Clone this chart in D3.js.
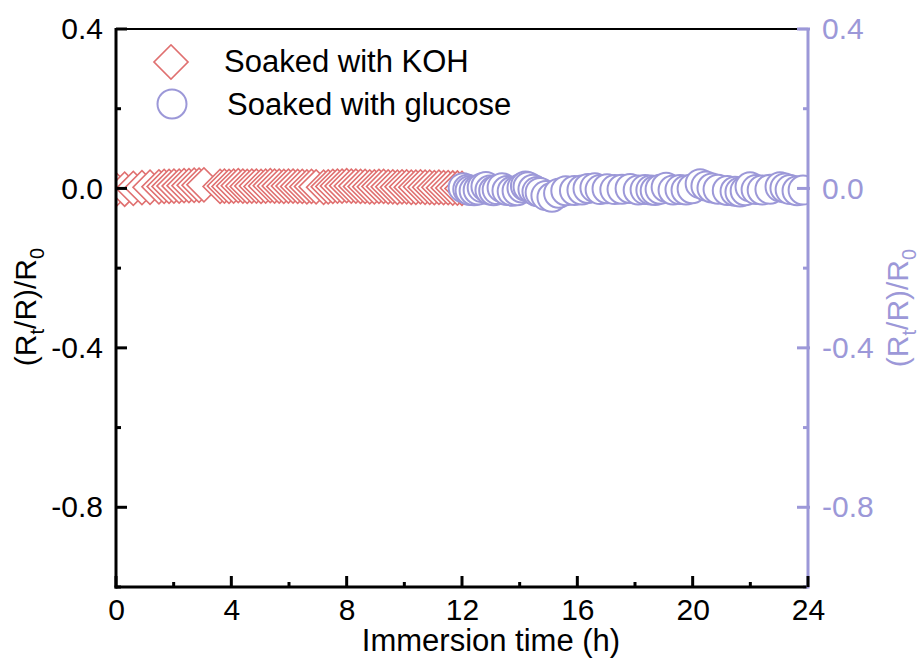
<!DOCTYPE html>
<html>
<head>
<meta charset="utf-8">
<script src="https://cdn.jsdelivr.net/npm/d3@7/dist/d3.min.js"></script>
<style>
html,body{margin:0;padding:0;background:#fff;}
svg{display:block;font-family:"Liberation Sans",Arial,sans-serif;}
</style>
</head>
<body>
<svg id="chart" width="922" height="662"></svg>
<script>
// ---- data ----
const kohTime = [0, 0.3, 0.6, 0.9, 1.18, 1.49, 1.67, 1.84, 2.01, 2.19, 2.36, 2.53, 2.71, 2.88, 3.05, 3.61,
  3.76, 3.92, 4.08, 4.24, 4.4, 4.55, 4.71, 4.87, 5.03, 5.19, 5.35, 5.5, 5.66, 5.82, 5.98, 6.14,
  6.3, 6.46, 6.62, 6.78, 6.94, 7.2, 7.36, 7.52, 7.68, 7.84, 8.0, 8.16, 8.32, 8.48, 8.64, 8.8,
  8.96, 9.12, 9.28, 9.44, 9.6, 9.76, 9.92, 10.08, 10.24, 10.4, 10.56, 10.72, 10.88, 11.04,
  11.2, 11.36, 11.52, 11.68, 11.84, 12.0];
const kohValue = [-0.003, -0.002, 0.0, 0.002, 0.003, 0.004, 0.005, 0.005, 0.006, 0.006, 0.007, 0.007, 0.008, 0.008, 0.009, 0.005,
  0.006, 0.005, 0.006, 0.007, 0.006, 0.005, 0.006, 0.006, 0.005, 0.006, 0.007, 0.006, 0.006, 0.005, 0.006, 0.006,
  0.005, 0.005, 0.004, 0.005, 0.004, 0.003, 0.004, 0.005, 0.006, 0.006, 0.007, 0.006, 0.006, 0.005, 0.005, 0.004,
  0.004, 0.005, 0.005, 0.004, 0.004, 0.003, 0.004, 0.004, 0.003, 0.003, 0.004, 0.003, 0.003, 0.002,
  0.003, 0.002, 0.002, 0.001, 0.001, 0.0];
const gluTime = [12.04, 12.2, 12.28, 12.42, 12.56, 12.7, 12.83, 12.97, 13.1, 13.22, 13.39, 13.56, 13.74, 13.91, 14.08,
  14.2, 14.29, 14.46, 14.6, 14.71, 14.91, 15.12, 15.35, 15.6, 15.9, 16.16, 16.37, 16.61, 16.79, 17.03, 17.3, 17.55, 17.83,
  18.11, 18.35, 18.55, 18.7, 18.87, 19.08, 19.32, 19.56, 19.77, 19.98, 20.26, 20.46, 20.67, 20.88, 21.2, 21.47,
  21.64, 21.82, 21.99, 22.2, 22.41, 22.68, 23.03, 23.2, 23.38, 23.62, 23.83];
const gluValue = [0.002, -0.002, -0.005, -0.006, -0.004, 0.002, 0.005, -0.004, -0.006, -0.003, 0.002, -0.005, -0.007, -0.006, 0.001,
  0.006, 0.004, -0.002, -0.008, -0.01, -0.018, -0.022, -0.012, -0.006, -0.005, -0.004, 0.0, 0.002, -0.003, -0.001, -0.003, -0.002, 0.0,
  -0.004, -0.003, -0.004, -0.005, -0.002, 0.003, -0.004, -0.003, -0.004, -0.001, 0.012, 0.006, 0.001, -0.002, -0.005, -0.007,
  -0.009, -0.006, 0.004, -0.003, -0.004, -0.002, 0.004, 0.001, -0.003, -0.006, -0.004];
const xTicks = [0, 4, 8, 12, 16, 20, 24];
const xMinor = [2, 6, 10, 14, 18, 22];
const yTicks = [0.4, 0.0, -0.4, -0.8];
const yMinor = [0.2, -0.2, -0.6, -1.0];
const legendLabels = ["Soaked with KOH", "Soaked with glucose"];

// ---- layout ----
const red = "#e07070", purple = "#9c98d8";
const L = 116, R = 808, T = 29, B = 587;
const svg = d3.select("#chart");
const x = d3.scaleLinear().domain([0, 24]).range([L, R]);
const y = d3.scaleLinear().domain([-1.0, 0.4]).range([B, T]);
const fmtY = v => d3.format(".1f")(v).replace("\u2212", "-");

svg.append("defs").append("clipPath").attr("id", "clip")
  .append("rect").attr("x", L).attr("y", 0).attr("width", R - L).attr("height", 662);

const marks = svg.append("g").attr("clip-path", "url(#clip)");
const diamond = d3.symbol(d3.symbolSquare, 580)();
marks.selectAll("path.koh").data(kohTime).join("path")
  .attr("class", "koh")
  .attr("d", diamond)
  .attr("transform", (d, i) => `translate(${x(d)},${y(kohValue[i])}) rotate(45)`)
  .attr("fill", "#fff").attr("stroke", red).attr("stroke-width", 1.6);
marks.selectAll("circle.glu").data(gluTime).join("circle")
  .attr("class", "glu")
  .attr("cx", d => x(d)).attr("cy", (d, i) => y(gluValue[i])).attr("r", 14.5)
  .attr("fill", "#fff").attr("stroke", purple).attr("stroke-width", 2);

// top border
svg.append("line").attr("x1", L).attr("x2", R).attr("y1", T).attr("y2", T)
  .attr("stroke", "#000").attr("stroke-width", 2);
svg.append("line").attr("x1", R - 9).attr("x2", R).attr("y1", T).attr("y2", T)
  .attr("stroke", purple).attr("stroke-width", 2.5);

// left axis
const gl = svg.append("g").attr("transform", `translate(${L},0)`);
gl.call(d3.axisLeft(y).tickValues(yTicks).tickSize(0).tickPadding(13).tickFormat(fmtY));
gl.select(".domain").remove();
gl.selectAll("text").attr("font-size", 30).attr("fill", "#000").attr("font-family", "Liberation Sans, Arial, sans-serif");
yTicks.forEach(v => gl.append("line").attr("x1", 0).attr("x2", 11).attr("y1", y(v)).attr("y2", y(v)).attr("stroke", "#000").attr("stroke-width", 3));
yMinor.forEach(v => gl.append("line").attr("x1", 0).attr("x2", 5).attr("y1", y(v)).attr("y2", y(v)).attr("stroke", "#000").attr("stroke-width", 3));
gl.append("line").attr("x1", 0).attr("x2", 0).attr("y1", T - 1).attr("y2", B + 1.5).attr("stroke", "#000").attr("stroke-width", 3);

// right axis
const gr = svg.append("g").attr("transform", `translate(${R},0)`);
gr.call(d3.axisRight(y).tickValues(yTicks).tickSize(0).tickPadding(14).tickFormat(fmtY));
gr.select(".domain").remove();
gr.selectAll("text").attr("font-size", 30).attr("fill", purple).attr("font-family", "Liberation Sans, Arial, sans-serif");
yTicks.forEach(v => gr.append("line").attr("x1", -11).attr("x2", 2).attr("y1", y(v)).attr("y2", y(v)).attr("stroke", purple).attr("stroke-width", 3));
yMinor.forEach(v => gr.append("line").attr("x1", -5).attr("x2", 0).attr("y1", y(v)).attr("y2", y(v)).attr("stroke", purple).attr("stroke-width", 3));
gr.append("line").attr("x1", 0).attr("x2", 0).attr("y1", T - 1).attr("y2", B + 1.5).attr("stroke", purple).attr("stroke-width", 3);

// bottom axis
const gb = svg.append("g").attr("transform", `translate(0,${B})`);
gb.call(d3.axisBottom(x).tickValues(xTicks).tickSize(0).tickPadding(12).tickFormat(d3.format("d")));
gb.select(".domain").remove();
gb.selectAll("text").attr("font-size", 30).attr("fill", "#000").attr("font-family", "Liberation Sans, Arial, sans-serif");
xTicks.forEach(v => gb.append("line").attr("x1", x(v)).attr("x2", x(v)).attr("y1", 0).attr("y2", -11).attr("stroke", "#000").attr("stroke-width", 3));
xMinor.forEach(v => gb.append("line").attr("x1", x(v)).attr("x2", x(v)).attr("y1", 0).attr("y2", -5).attr("stroke", "#000").attr("stroke-width", 3));
gb.append("line").attr("x1", L - 1.5).attr("x2", R - 1.5).attr("y1", 0).attr("y2", 0).attr("stroke", "#000").attr("stroke-width", 3);

// axis titles
svg.append("text").attr("x", 491).attr("y", 651).attr("text-anchor", "middle")
  .attr("font-size", 31).attr("fill", "#000").text("Immersion time (h)");

function yTitle(cx, cy, color) {
  const t = svg.append("text").attr("transform", `translate(${cx},${cy}) rotate(-90)`)
    .attr("text-anchor", "middle").attr("font-size", 30).attr("fill", color);
  t.append("tspan").text("(R");
  t.append("tspan").attr("font-size", 20).attr("dy", 8).text("t");
  t.append("tspan").attr("dy", -8).text("/R)/R");
  t.append("tspan").attr("font-size", 20).attr("dy", 8).text("0");
}
yTitle(36, 307, "#000");
yTitle(908, 308, purple);

// legend
const lg = svg.append("g");
lg.append("path").attr("d", diamond).attr("transform", "translate(171,62) rotate(45)")
  .attr("fill", "#fff").attr("stroke", red).attr("stroke-width", 1.6);
lg.append("circle").attr("cx", 172).attr("cy", 104).attr("r", 14.5)
  .attr("fill", "#fff").attr("stroke", purple).attr("stroke-width", 2);
lg.append("text").attr("x", 224).attr("y", 72).attr("font-size", 31).attr("fill", "#000").text(legendLabels[0]);
lg.append("text").attr("x", 227).attr("y", 115).attr("font-size", 31).attr("fill", "#000").text(legendLabels[1]);
</script>
</body>
</html>
